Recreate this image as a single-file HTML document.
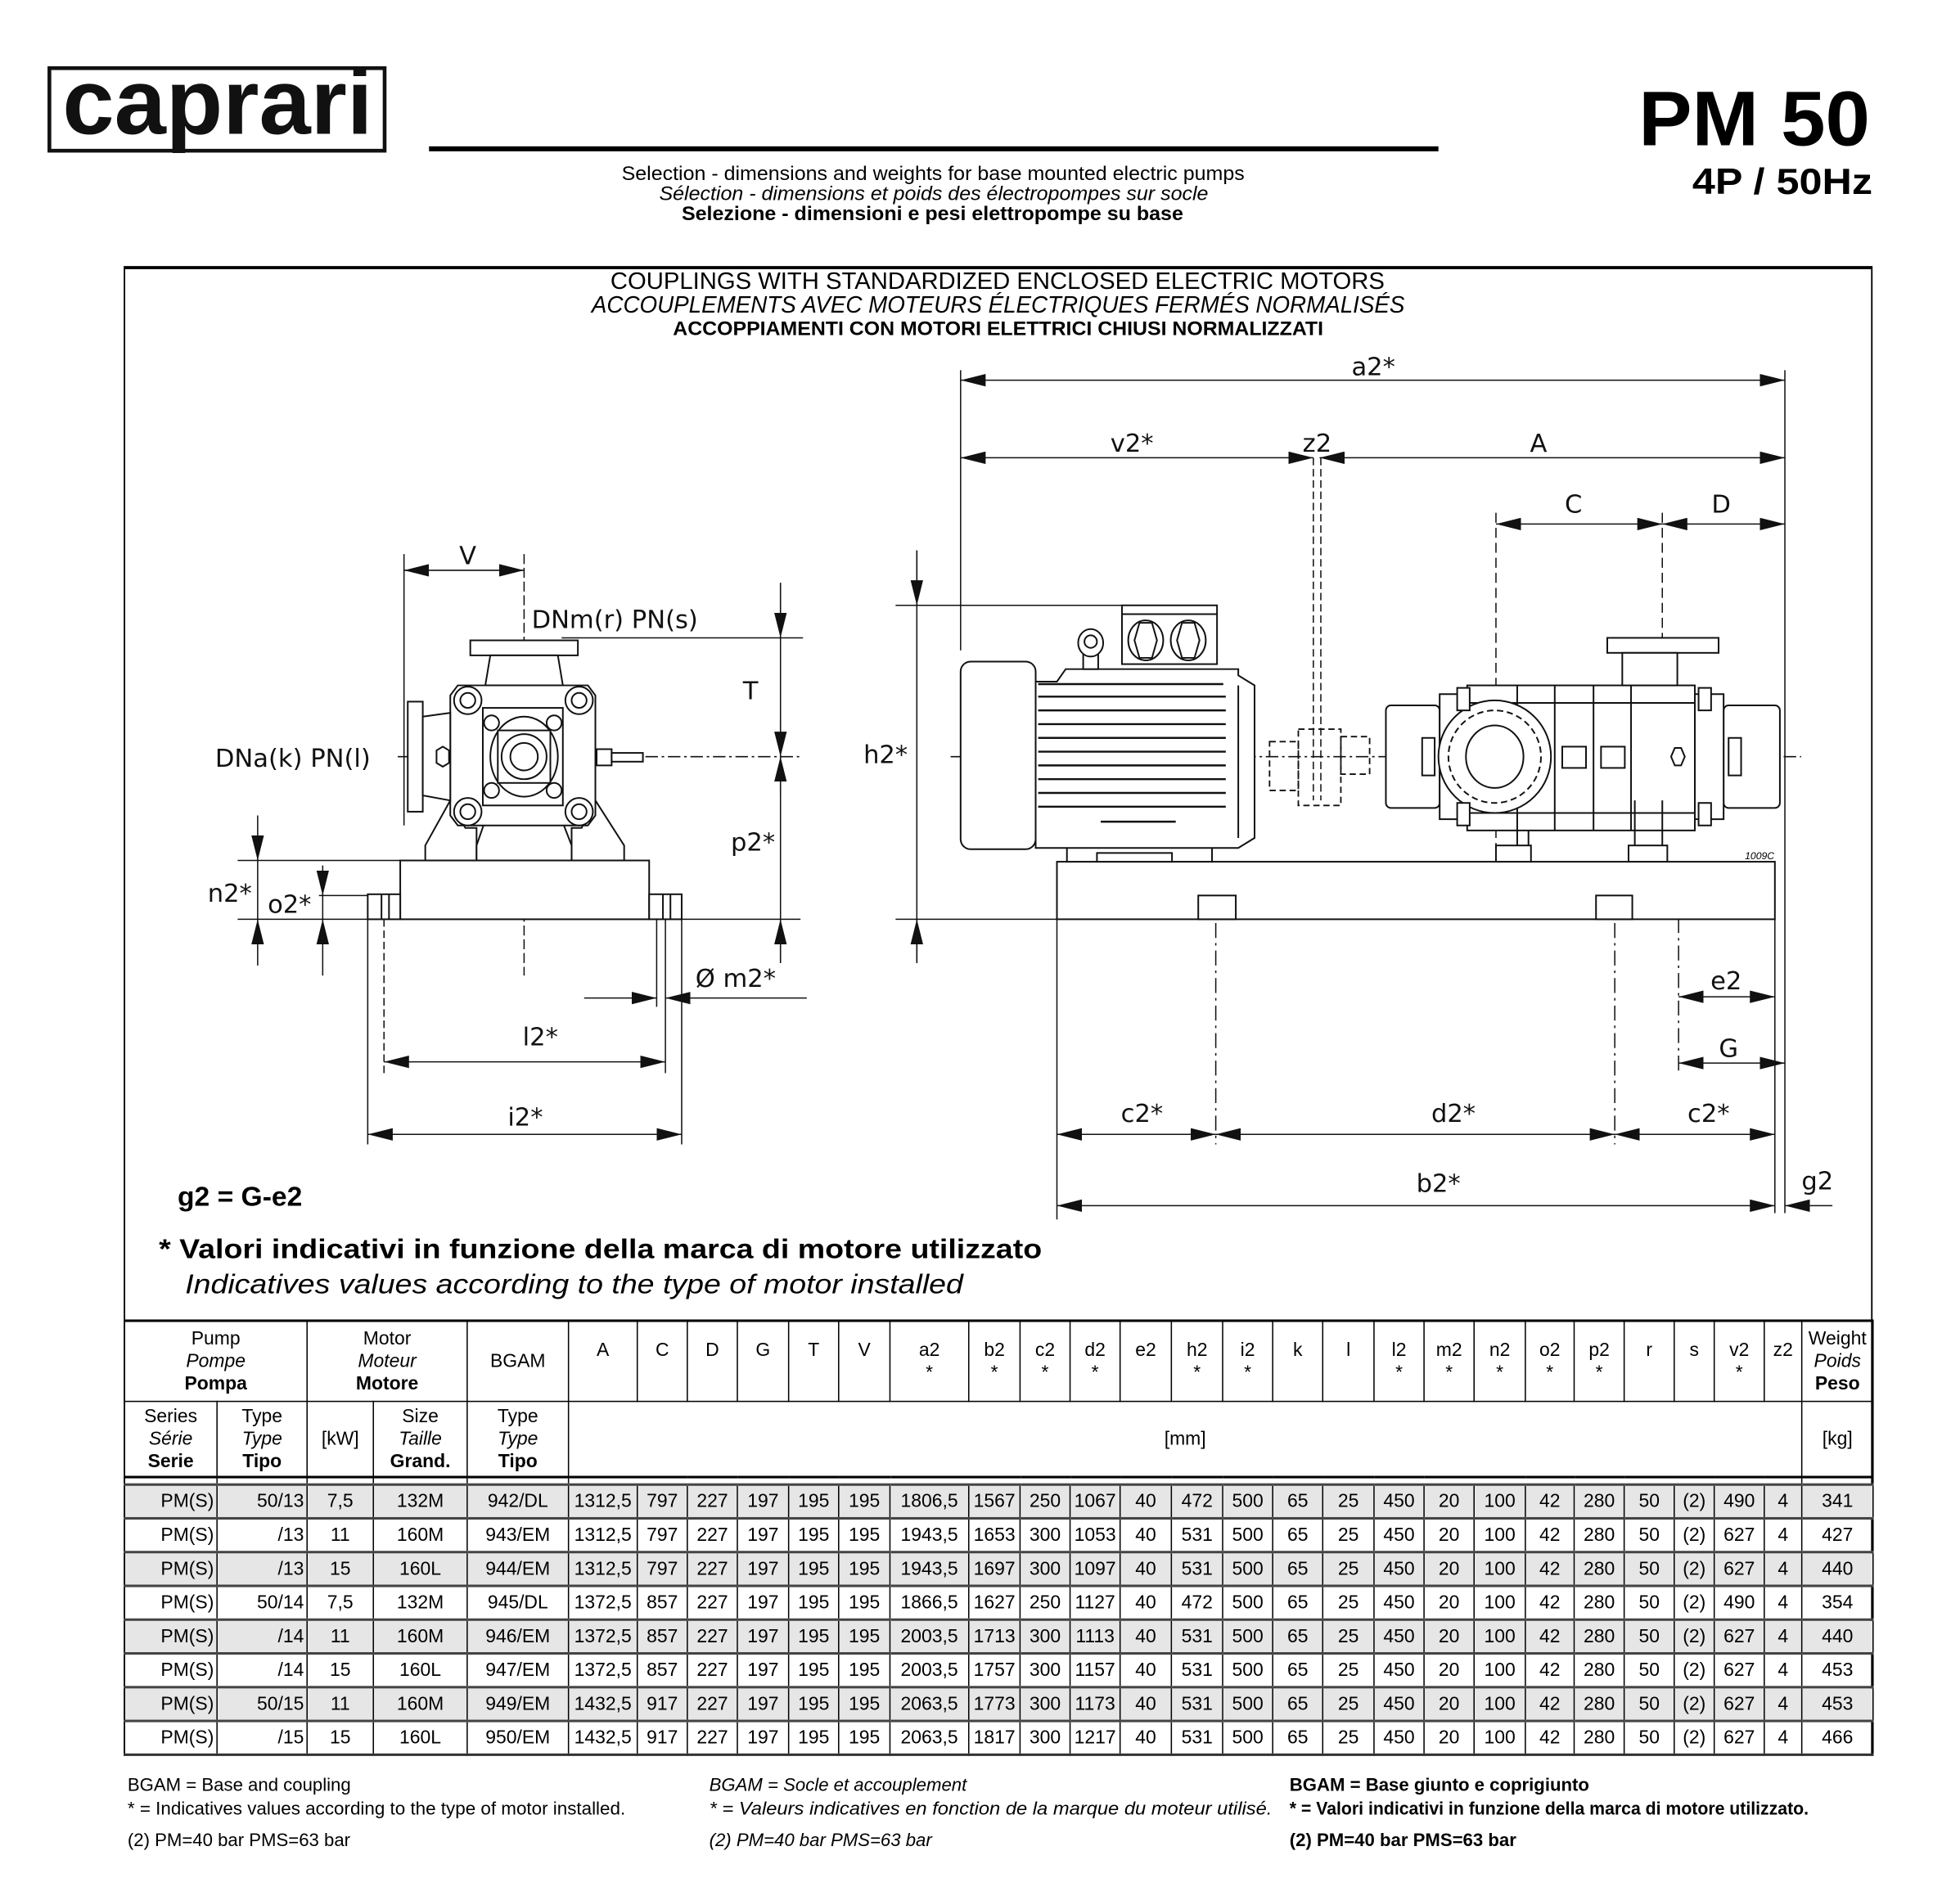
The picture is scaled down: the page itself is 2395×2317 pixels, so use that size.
<!DOCTYPE html>
<html><head><meta charset="utf-8">
<style>
html,body{margin:0;padding:0;background:#fff;}
#wrap{position:relative;width:1567px;height:1516px;transform:scale(1.5284);transform-origin:0 0;overflow:hidden;}
svg{position:absolute;left:0;top:0;}
table{position:absolute;left:99px;top:1055px;width:1398px;border-collapse:collapse;table-layout:fixed;font-family:"Liberation Sans",Arial,sans-serif;font-size:15px;}
td{border:1px solid #000;text-align:center;padding:0;line-height:18px;overflow:hidden;white-space:nowrap;}
tr.h1 td{height:63px;}
tr.h2 td{height:59px;}
tr.sp td{height:4px;border-top:2px solid #000;}
tr.d td{height:25px;border-top:2px solid #444;}
tr.g td{background:#e6e6e6;}
td.r{text-align:right;padding-right:2px;}
i{font-style:italic;} b{font-weight:bold;}
</style></head><body><div id="wrap">
<svg width="1567" height="1516" viewBox="0 0 1567 1516" font-family="'Liberation Sans',Arial,sans-serif">
<defs>
<marker id="ar" markerUnits="userSpaceOnUse" markerWidth="20" markerHeight="10" refX="20" refY="5" orient="auto-start-reverse"><path d="M0,0 L20,5 L0,10 z" fill="#111"/></marker>
</defs>
<!-- header -->
<rect x="39.5" y="54.5" width="268" height="66" fill="none" stroke="#111" stroke-width="3"/>
<text x="50" y="107" font-size="74" font-weight="bold" textLength="248" lengthAdjust="spacingAndGlyphs" fill="#111">caprari</text>
<rect x="343" y="117" width="807" height="4" fill="#000"/>
<text x="1310" y="116" font-size="62" font-weight="bold" textLength="185" lengthAdjust="spacingAndGlyphs">PM 50</text>
<text x="1353" y="155" font-size="29" font-weight="bold" textLength="144" lengthAdjust="spacingAndGlyphs">4P / 50Hz</text>
<text x="497" y="144" font-size="16" textLength="498" lengthAdjust="spacingAndGlyphs">Selection - dimensions and weights for base mounted electric pumps</text>
<text x="527" y="160" font-size="16" font-style="italic" textLength="439" lengthAdjust="spacingAndGlyphs">Sélection - dimensions et poids des électropompes sur socle</text>
<text x="545" y="176" font-size="16" font-weight="bold" textLength="401" lengthAdjust="spacingAndGlyphs">Selezione - dimensioni e pesi elettropompe su base</text>
<!-- frame -->
<line x1="99" y1="214" x2="1497" y2="214" stroke="#000" stroke-width="2.5"/>
<line x1="99.5" y1="213" x2="99.5" y2="1404" stroke="#000" stroke-width="1.2"/>
<line x1="1496.5" y1="213" x2="1496.5" y2="1404" stroke="#000" stroke-width="1.2"/>
<text x="488" y="231" font-size="19" textLength="619" lengthAdjust="spacingAndGlyphs">COUPLINGS WITH STANDARDIZED ENCLOSED ELECTRIC MOTORS</text>
<text x="473" y="250" font-size="19" font-style="italic" textLength="650" lengthAdjust="spacingAndGlyphs">ACCOUPLEMENTS AVEC MOTEURS ÉLECTRIQUES FERMÉS NORMALISÉS</text>
<text x="538" y="268" font-size="16" font-weight="bold" textLength="520" lengthAdjust="spacingAndGlyphs">ACCOPPIAMENTI CON MOTORI ELETTRICI CHIUSI NORMALIZZATI</text>

<g font-family="'DejaVu Sans',sans-serif" font-size="20" fill="#111">
<text x="374" y="451" text-anchor="middle">V</text>
<text x="425" y="502">DNm(r) PN(s)</text>
<text x="600" y="559" text-anchor="middle">T</text>
<text x="172" y="613">DNa(k) PN(l)</text>
<text x="602" y="680" text-anchor="middle">p2*</text>
<text x="166" y="721">n2*</text>
<text x="214" y="730">o2*</text>
<text x="556" y="789">Ø m2*</text>
<text x="432" y="836" text-anchor="middle">l2*</text>
<text x="420" y="900" text-anchor="middle">i2*</text>
<text x="1098" y="300" text-anchor="middle">a2*</text>
<text x="905" y="361" text-anchor="middle">v2*</text>
<text x="1053" y="361" text-anchor="middle">z2</text>
<text x="1230" y="361" text-anchor="middle">A</text>
<text x="1258" y="410" text-anchor="middle">C</text>
<text x="1376" y="410" text-anchor="middle">D</text>
<text x="708" y="610" text-anchor="middle">h2*</text>
<text x="1380" y="791" text-anchor="middle">e2</text>
<text x="1382" y="845" text-anchor="middle">G</text>
<text x="913" y="897" text-anchor="middle">c2*</text>
<text x="1162" y="897" text-anchor="middle">d2*</text>
<text x="1366" y="897" text-anchor="middle">c2*</text>
<text x="1150" y="953" text-anchor="middle">b2*</text>
<text x="1453" y="951" text-anchor="middle">g2</text>
</g>
<text x="1395" y="687" font-size="8" font-style="italic">1009C</text>
<text x="142" y="964" font-size="22" font-weight="bold">g2 = G-e2</text>
<text x="127" y="1006" font-size="22" font-weight="bold" textLength="706" lengthAdjust="spacingAndGlyphs">* Valori indicativi in funzione della marca di motore utilizzato</text>
<text x="148" y="1034" font-size="22" font-style="italic" textLength="622" lengthAdjust="spacingAndGlyphs">Indicatives values according to the type of motor installed</text>

<!-- dimension lines -->
<g stroke="#111" stroke-width="1" fill="none">
<line x1="323" y1="443" x2="323" y2="660"/>
<line x1="323" y1="456" x2="419" y2="456" marker-start="url(#ar)" marker-end="url(#ar)"/>
<line x1="419" y1="443" x2="419" y2="780" stroke-dasharray="8,3"/>
<line x1="449" y1="510" x2="642" y2="510"/>
<line x1="624" y1="466" x2="624" y2="770"/>
<line x1="624" y1="466" x2="624" y2="510" marker-end="url(#ar)"/>
<line x1="624" y1="575" x2="624" y2="605" marker-end="url(#ar)"/>
<line x1="624" y1="635" x2="624" y2="605" marker-end="url(#ar)"/>
<line x1="624" y1="770" x2="624" y2="735" marker-end="url(#ar)"/>
<line x1="318" y1="605" x2="642" y2="605" stroke-dasharray="10,3,2,3"/>
<line x1="190" y1="688" x2="320" y2="688"/>
<line x1="190" y1="735" x2="640" y2="735"/>
<line x1="255" y1="716" x2="294" y2="716"/>
<line x1="206" y1="652" x2="206" y2="688" marker-end="url(#ar)"/>
<line x1="206" y1="688" x2="206" y2="735"/>
<line x1="206" y1="772" x2="206" y2="735" marker-end="url(#ar)"/>
<line x1="258" y1="692" x2="258" y2="716" marker-end="url(#ar)"/>
<line x1="258" y1="716" x2="258" y2="735"/>
<line x1="258" y1="780" x2="258" y2="735" marker-end="url(#ar)"/>
<line x1="294" y1="735" x2="294" y2="915"/>
<line x1="545" y1="735" x2="545" y2="915"/>
<line x1="307" y1="735" x2="307" y2="858" stroke-dasharray="6,3"/>
<line x1="525" y1="735" x2="525" y2="805"/>
<line x1="532" y1="735" x2="532" y2="858"/>
<line x1="467" y1="798" x2="525" y2="798" marker-end="url(#ar)"/>
<line x1="565" y1="798" x2="532" y2="798" marker-end="url(#ar)"/>
<line x1="565" y1="798" x2="645" y2="798"/>
<line x1="307" y1="849" x2="532" y2="849" marker-start="url(#ar)" marker-end="url(#ar)"/>
<line x1="294" y1="907" x2="545" y2="907" marker-start="url(#ar)" marker-end="url(#ar)"/>
<line x1="768" y1="296" x2="768" y2="520"/>
<line x1="1427" y1="296" x2="1427" y2="970"/>
<line x1="768" y1="304" x2="1427" y2="304" marker-start="url(#ar)" marker-end="url(#ar)"/>
<line x1="768" y1="366" x2="1050" y2="366" marker-start="url(#ar)" marker-end="url(#ar)"/>
<line x1="1055" y1="366" x2="1427" y2="366" marker-start="url(#ar)" marker-end="url(#ar)"/>
<line x1="1050" y1="366" x2="1050" y2="640" stroke-dasharray="6,3"/>
<line x1="1056" y1="366" x2="1056" y2="640" stroke-dasharray="6,3"/>
<line x1="1196" y1="410" x2="1196" y2="690" stroke-dasharray="8,4"/>
<line x1="1329" y1="410" x2="1329" y2="700" stroke-dasharray="8,4"/>
<line x1="1196" y1="419" x2="1329" y2="419" marker-start="url(#ar)" marker-end="url(#ar)"/>
<line x1="1329" y1="419" x2="1427" y2="419" marker-start="url(#ar)" marker-end="url(#ar)"/>
<line x1="716" y1="484" x2="897" y2="484"/>
<line x1="716" y1="735" x2="845" y2="735"/>
<line x1="733" y1="440" x2="733" y2="770"/>
<line x1="733" y1="440" x2="733" y2="484" marker-end="url(#ar)"/>
<line x1="733" y1="770" x2="733" y2="735" marker-end="url(#ar)"/>
<line x1="760" y1="605" x2="1440" y2="605" stroke-dasharray="10,3,2,3"/>
<line x1="972" y1="716" x2="972" y2="915" stroke-dasharray="12,4,2,4"/>
<line x1="1291" y1="716" x2="1291" y2="915" stroke-dasharray="12,4,2,4"/>
<line x1="1342" y1="690" x2="1342" y2="858" stroke-dasharray="12,4,2,4"/>
<line x1="1419" y1="735" x2="1419" y2="970"/>
<line x1="845" y1="735" x2="845" y2="975"/>
<line x1="1342" y1="797" x2="1419" y2="797" marker-start="url(#ar)" marker-end="url(#ar)"/>
<line x1="1342" y1="850" x2="1427" y2="850" marker-start="url(#ar)" marker-end="url(#ar)"/>
<line x1="845" y1="907" x2="972" y2="907" marker-start="url(#ar)" marker-end="url(#ar)"/>
<line x1="972" y1="907" x2="1291" y2="907" marker-start="url(#ar)" marker-end="url(#ar)"/>
<line x1="1291" y1="907" x2="1419" y2="907" marker-start="url(#ar)" marker-end="url(#ar)"/>
<line x1="845" y1="964" x2="1419" y2="964" marker-start="url(#ar)" marker-end="url(#ar)"/>
<line x1="1447" y1="964" x2="1427" y2="964" marker-end="url(#ar)"/>
<line x1="1447" y1="964" x2="1465" y2="964"/>
</g>

<!-- left pump view -->
<g stroke="#111" stroke-width="1.3" fill="#fff">
<rect x="320" y="688" width="199" height="47"/>
<rect x="294" y="715" width="26" height="20"/>
<rect x="519" y="715" width="26" height="20"/>
<line x1="305" y1="715" x2="305" y2="735"/><line x1="311" y1="715" x2="311" y2="735"/>
<line x1="530" y1="715" x2="530" y2="735"/><line x1="536" y1="715" x2="536" y2="735"/>
<path d="M340,688 L340,676 L360,640 L372,662 L381,662 L381,688 Z"/>
<path d="M499,688 L499,676 L476,640 L465,662 L457,662 L457,688 Z"/>
<path d="M381,676 L390,650 L447,650 L457,676 L457,688 L381,688 Z"/>
<rect x="376" y="512" width="86" height="12"/>
<path d="M392,524 L388,548 L450,548 L446,524 Z"/>
<path d="M366,548 L470,548 L476,556 L476,652 L470,660 L366,660 L360,652 L360,556 Z"/>
<rect x="326" y="561" width="12" height="88"/>
<path d="M338,573 L360,570 L360,640 L338,636 Z"/>
<circle cx="374" cy="560" r="11"/><circle cx="374" cy="560" r="6"/>
<circle cx="463" cy="560" r="11"/><circle cx="463" cy="560" r="6"/>
<circle cx="374" cy="649" r="11"/><circle cx="374" cy="649" r="6"/>
<circle cx="463" cy="649" r="11"/><circle cx="463" cy="649" r="6"/>
<rect x="386" y="566" width="64" height="78"/>
<circle cx="393" cy="578" r="6"/><circle cx="443" cy="578" r="6"/>
<circle cx="393" cy="632" r="6"/><circle cx="443" cy="632" r="6"/>
<ellipse cx="419" cy="605" rx="27" ry="32"/>
<rect x="398" y="584" width="42" height="42"/>
<circle cx="419" cy="605" r="18"/>
<circle cx="419" cy="605" r="11"/>
<path d="M349,600 L354,597 L359,600 L359,610 L354,613 L349,610 Z"/>
<rect x="477" y="599" width="12" height="13"/>
<rect x="489" y="602" width="25" height="7"/>
</g>

<!-- right elevation -->
<g stroke="#111" stroke-width="1.3" fill="#fff">
<rect x="845" y="689" width="574" height="46"/>
<rect x="958" y="716" width="30" height="19"/>
<rect x="1276" y="716" width="29" height="19"/>
<rect x="853" y="652" width="116" height="37"/>
<rect x="877" y="682" width="60" height="7"/>
<rect x="768" y="529" width="60" height="150" rx="8"/>
<path d="M828,545 L845,545 L852,535 L990,535 L990,540 L1003,548 L1003,670 L990,678 L828,678 Z"/>
<rect x="897" y="484" width="76" height="47"/>
<line x1="897" y1="491" x2="973" y2="491"/>
<ellipse cx="916" cy="512" rx="14" ry="16"/><ellipse cx="950" cy="512" rx="14" ry="16"/>
<path d="M907,512 L911,498 L921,498 L925,512 L921,526 L911,526 Z"/>
<path d="M941,512 L945,498 L955,498 L959,512 L955,526 L945,526 Z"/>
<rect x="866" y="522" width="12" height="13"/>
<ellipse cx="872" cy="514" rx="10" ry="11"/><circle cx="872" cy="513" r="5"/>
<line x1="990" y1="548" x2="990" y2="670"/>
</g>
<g stroke="#111" stroke-width="1.6">
<line x1="830" y1="547" x2="978" y2="547"/><line x1="830" y1="557" x2="980" y2="557"/>
<line x1="830" y1="568" x2="980" y2="568"/><line x1="830" y1="579" x2="980" y2="579"/>
<line x1="830" y1="590" x2="980" y2="590"/><line x1="830" y1="601" x2="980" y2="601"/>
<line x1="830" y1="612" x2="980" y2="612"/><line x1="830" y1="623" x2="980" y2="623"/>
<line x1="830" y1="634" x2="980" y2="634"/><line x1="830" y1="645" x2="980" y2="645"/>
<line x1="880" y1="657" x2="940" y2="657"/>
</g>
<g stroke="#111" stroke-width="1.2" fill="none" stroke-dasharray="5,3">
<rect x="1015" y="593" width="23" height="39"/>
<rect x="1038" y="583" width="34" height="61"/>
<rect x="1072" y="589" width="23" height="30"/>
</g>
<g stroke="#111" stroke-width="1.3" fill="#fff">
<rect x="1196" y="676" width="28" height="13"/>
<rect x="1302" y="676" width="31" height="13"/>
<rect x="1108" y="564" width="43" height="82" rx="4"/>
<rect x="1378" y="564" width="45" height="82" rx="4"/>
<rect x="1151" y="555" width="22" height="100"/>
<rect x="1355" y="555" width="23" height="100"/>
<rect x="1173" y="548" width="182" height="116"/>
<rect x="1285" y="510" width="89" height="12"/>
<rect x="1297" y="522" width="44" height="26"/>
<line x1="1213" y1="548" x2="1213" y2="664"/><line x1="1243" y1="548" x2="1243" y2="664"/>
<line x1="1274" y1="548" x2="1274" y2="664"/><line x1="1304" y1="548" x2="1304" y2="664"/>
<line x1="1173" y1="562" x2="1355" y2="562"/><line x1="1173" y1="650" x2="1355" y2="650"/>
<path d="M1213,664 L1213,676 M1222,664 L1222,676 M1307,640 L1307,676 M1329,640 L1329,676"/>
<circle cx="1195" cy="605" r="45"/>
<circle cx="1195" cy="605" r="37" stroke-dasharray="5,3"/>
<ellipse cx="1195" cy="605" rx="23" ry="25"/>
<rect x="1249" y="597" width="19" height="17"/>
<rect x="1280" y="597" width="19" height="17"/>
<path d="M1336,605 L1339,598 L1344,598 L1347,605 L1344,612 L1339,612 Z"/>
<rect x="1165" y="550" width="10" height="18"/><rect x="1165" y="642" width="10" height="18"/>
<rect x="1358" y="550" width="10" height="18"/><rect x="1358" y="642" width="10" height="18"/>
<rect x="1137" y="590" width="10" height="30"/><rect x="1382" y="590" width="10" height="30"/>
</g>
</svg>

<table>
<colgroup>
<col style="width:74px"><col style="width:72px"><col style="width:53px"><col style="width:75px"><col style="width:81px"><col style="width:55px"><col style="width:40px"><col style="width:40px"><col style="width:41px"><col style="width:40px"><col style="width:41px"><col style="width:63px"><col style="width:41px"><col style="width:40px"><col style="width:40px"><col style="width:41px"><col style="width:41px"><col style="width:40px"><col style="width:40px"><col style="width:41px"><col style="width:40px"><col style="width:40px"><col style="width:41px"><col style="width:39px"><col style="width:40px"><col style="width:40px"><col style="width:32px"><col style="width:40px"><col style="width:30px"><col style="width:57px">
</colgroup>
<tr class="h1" style="border-top:2px solid #000">
<td colspan="2">Pump<br><i>Pompe</i><br><b>Pompa</b></td>
<td colspan="2">Motor<br><i>Moteur</i><br><b>Motore</b></td>
<td>BGAM</td>
<td>A<br>&nbsp;</td><td>C<br>&nbsp;</td><td>D<br>&nbsp;</td><td>G<br>&nbsp;</td><td>T<br>&nbsp;</td><td>V<br>&nbsp;</td>
<td>a2<br>*</td><td>b2<br>*</td><td>c2<br>*</td><td>d2<br>*</td><td>e2<br>&nbsp;</td><td>h2<br>*</td><td>i2<br>*</td><td>k<br>&nbsp;</td><td>l<br>&nbsp;</td><td>l2<br>*</td><td>m2<br>*</td><td>n2<br>*</td><td>o2<br>*</td><td>p2<br>*</td><td>r<br>&nbsp;</td><td>s<br>&nbsp;</td><td>v2<br>*</td><td>z2<br>&nbsp;</td>
<td>Weight<br><i>Poids</i><br><b>Peso</b></td>
</tr>
<tr class="h2">
<td>Series<br><i>Série</i><br><b>Serie</b></td><td>Type<br><i>Type</i><br><b>Tipo</b></td><td>[kW]</td><td>Size<br><i>Taille</i><br><b>Grand.</b></td><td>Type<br><i>Type</i><br><b>Tipo</b></td>
<td colspan="24">[mm]</td><td>[kg]</td>
</tr>
<tr class="sp"><td></td><td></td><td></td><td></td><td></td><td colspan="24"></td><td></td></tr>
<tr class="d g"><td class="r">PM(S)</td><td class="r">50/13</td><td>7,5</td><td>132M</td><td>942/DL</td><td>1312,5</td><td>797</td><td>227</td><td>197</td><td>195</td><td>195</td><td>1806,5</td><td>1567</td><td>250</td><td>1067</td><td>40</td><td>472</td><td>500</td><td>65</td><td>25</td><td>450</td><td>20</td><td>100</td><td>42</td><td>280</td><td>50</td><td>(2)</td><td>490</td><td>4</td><td>341</td></tr>
<tr class="d"><td class="r">PM(S)</td><td class="r">/13</td><td>11</td><td>160M</td><td>943/EM</td><td>1312,5</td><td>797</td><td>227</td><td>197</td><td>195</td><td>195</td><td>1943,5</td><td>1653</td><td>300</td><td>1053</td><td>40</td><td>531</td><td>500</td><td>65</td><td>25</td><td>450</td><td>20</td><td>100</td><td>42</td><td>280</td><td>50</td><td>(2)</td><td>627</td><td>4</td><td>427</td></tr>
<tr class="d g"><td class="r">PM(S)</td><td class="r">/13</td><td>15</td><td>160L</td><td>944/EM</td><td>1312,5</td><td>797</td><td>227</td><td>197</td><td>195</td><td>195</td><td>1943,5</td><td>1697</td><td>300</td><td>1097</td><td>40</td><td>531</td><td>500</td><td>65</td><td>25</td><td>450</td><td>20</td><td>100</td><td>42</td><td>280</td><td>50</td><td>(2)</td><td>627</td><td>4</td><td>440</td></tr>
<tr class="d"><td class="r">PM(S)</td><td class="r">50/14</td><td>7,5</td><td>132M</td><td>945/DL</td><td>1372,5</td><td>857</td><td>227</td><td>197</td><td>195</td><td>195</td><td>1866,5</td><td>1627</td><td>250</td><td>1127</td><td>40</td><td>472</td><td>500</td><td>65</td><td>25</td><td>450</td><td>20</td><td>100</td><td>42</td><td>280</td><td>50</td><td>(2)</td><td>490</td><td>4</td><td>354</td></tr>
<tr class="d g"><td class="r">PM(S)</td><td class="r">/14</td><td>11</td><td>160M</td><td>946/EM</td><td>1372,5</td><td>857</td><td>227</td><td>197</td><td>195</td><td>195</td><td>2003,5</td><td>1713</td><td>300</td><td>1113</td><td>40</td><td>531</td><td>500</td><td>65</td><td>25</td><td>450</td><td>20</td><td>100</td><td>42</td><td>280</td><td>50</td><td>(2)</td><td>627</td><td>4</td><td>440</td></tr>
<tr class="d"><td class="r">PM(S)</td><td class="r">/14</td><td>15</td><td>160L</td><td>947/EM</td><td>1372,5</td><td>857</td><td>227</td><td>197</td><td>195</td><td>195</td><td>2003,5</td><td>1757</td><td>300</td><td>1157</td><td>40</td><td>531</td><td>500</td><td>65</td><td>25</td><td>450</td><td>20</td><td>100</td><td>42</td><td>280</td><td>50</td><td>(2)</td><td>627</td><td>4</td><td>453</td></tr>
<tr class="d g"><td class="r">PM(S)</td><td class="r">50/15</td><td>11</td><td>160M</td><td>949/EM</td><td>1432,5</td><td>917</td><td>227</td><td>197</td><td>195</td><td>195</td><td>2063,5</td><td>1773</td><td>300</td><td>1173</td><td>40</td><td>531</td><td>500</td><td>65</td><td>25</td><td>450</td><td>20</td><td>100</td><td>42</td><td>280</td><td>50</td><td>(2)</td><td>627</td><td>4</td><td>453</td></tr>
<tr class="d" style="border-bottom:2px solid #333"><td class="r">PM(S)</td><td class="r">/15</td><td>15</td><td>160L</td><td>950/EM</td><td>1432,5</td><td>917</td><td>227</td><td>197</td><td>195</td><td>195</td><td>2063,5</td><td>1817</td><td>300</td><td>1217</td><td>40</td><td>531</td><td>500</td><td>65</td><td>25</td><td>450</td><td>20</td><td>100</td><td>42</td><td>280</td><td>50</td><td>(2)</td><td>627</td><td>4</td><td>466</td></tr>
</table>

<svg width="1567" height="1516" viewBox="0 0 1567 1516" style="pointer-events:none" font-family="'Liberation Sans',Arial,sans-serif" font-size="14.5">
<text x="102" y="1432">BGAM = Base and coupling</text>
<text x="102" y="1451" textLength="398" lengthAdjust="spacingAndGlyphs">* = Indicatives values according to the type of motor installed.</text>
<text x="102" y="1476">(2) PM=40 bar  PMS=63 bar</text>
<g font-style="italic">
<text x="567" y="1432">BGAM = Socle et accouplement</text>
<text x="567" y="1451" textLength="450" lengthAdjust="spacingAndGlyphs">* = Valeurs indicatives en fonction de la marque du moteur utilisé.</text>
<text x="567" y="1476">(2) PM=40 bar  PMS=63 bar</text>
</g>
<g font-weight="bold">
<text x="1031" y="1432">BGAM = Base giunto e coprigiunto</text>
<text x="1031" y="1451" textLength="415" lengthAdjust="spacingAndGlyphs">* = Valori indicativi in funzione della marca di motore utilizzato.</text>
<text x="1031" y="1476">(2) PM=40 bar  PMS=63 bar</text>
</g>
</svg>
</div></body></html>
